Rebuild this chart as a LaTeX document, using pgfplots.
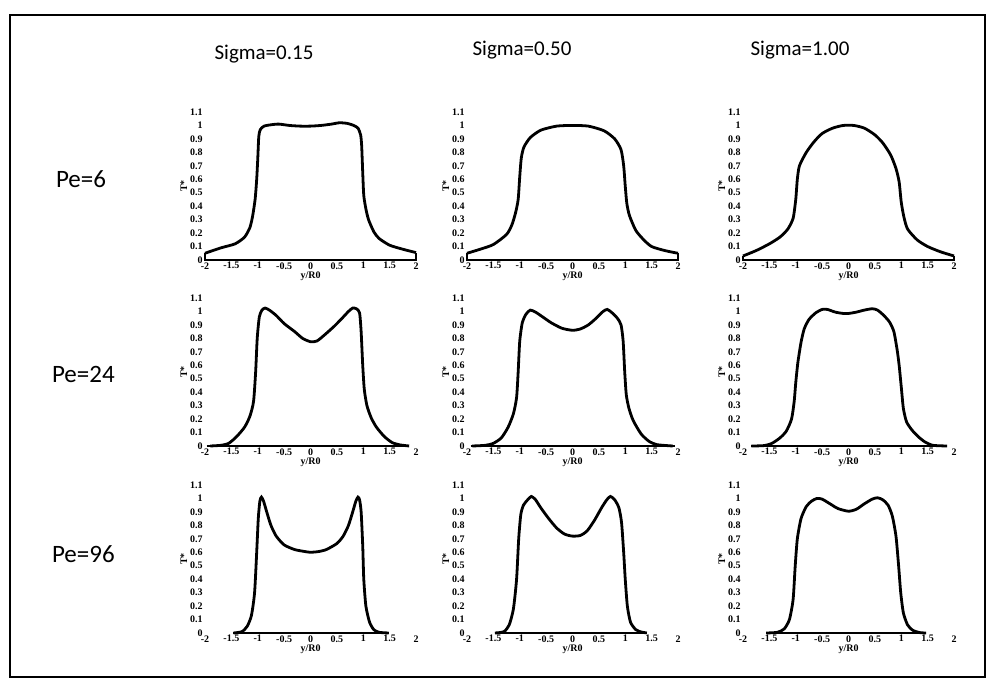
\documentclass[border=0pt]{standalone}
\usepackage{fontspec}
\setmainfont{Carlito}
\newfontfamily\tickfont{Liberation Serif}
\usepackage{pgfplots}
\pgfplotsset{compat=1.18}

\pgfplotsset{
  panel/.style={
    scale only axis,
    anchor=south west,
    width=105.5pt,
    height=74pt,
    xmin=-2, xmax=2,
    ymin=0, ymax=1.1,
    axis line style={draw=none},
    tick style={draw=none},
    xtick={-2,-1.5,-1,-0.5,0,0.5,1,1.5,2},
    xticklabels={-2,-1.5,-1,-0.5,0,0.5,1,1.5,2},
    ytick={0,0.1,0.2,0.3,0.4,0.5,0.6,0.7,0.8,0.9,1,1.1},
    yticklabels={0,0.1,0.2,0.3,0.4,0.5,0.6,0.7,0.8,0.9,1,1.1},
    tick label style={font=\tickfont\bfseries\fontsize{5}{6}\selectfont, inner sep=1pt},
    xlabel={y/R0},
    ylabel={T*},
    label style={font=\tickfont\bfseries\fontsize{5}{6}\selectfont},
    xlabel style={yshift=3pt},
    ylabel style={yshift=-3pt},
    clip=false,
  },
  curve/.style={black, line width=1.4pt, smooth, tension=0.4, no marks},
  base/.style={black, line width=1.2pt, no marks},
}

\begin{document}
\begin{tikzpicture}
\useasboundingbox (0,0) rectangle (496pt,340pt);
\draw[line width=1pt] (5pt,1.5pt) rectangle (492.5pt,332.5pt);

% column titles
\node[font=\fontsize{10.5}{12}\selectfont, anchor=base] at (132pt,310pt) {Sigma=0.15};
\node[font=\fontsize{10.5}{12}\selectfont, anchor=base] at (261pt,312pt) {Sigma=0.50};
\node[font=\fontsize{10.5}{12}\selectfont, anchor=base] at (400pt,312pt) {Sigma=1.00};

% row labels
\node[font=\fontsize{12.5}{14}\selectfont, anchor=base west] at (24.5pt,246pt) {Pe=6};
\node[font=\fontsize{12.5}{14}\selectfont, anchor=base west] at (22.5pt,148.5pt) {Pe=24};
\node[font=\fontsize{12.5}{14}\selectfont, anchor=base west] at (22.5pt,58.5pt) {Pe=96};

% ---- row 1: Pe=6
\begin{axis}[panel, at={(102.5pt,210pt)}]
\addplot[base] coordinates {(-2,0.05) (-2,0) (2,0) (2,0.055)};
\addplot[curve] coordinates {
(-2,0.05)(-1.7,0.09)(-1.43,0.12)(-1.25,0.17)(-1.15,0.24)(-1.1,0.32)(-1.05,0.45)
(-1.02,0.6)(-1.0,0.75)(-0.98,0.92)(-0.95,0.97)(-0.88,0.995)(-0.75,1.005)(-0.6,1.01)
(-0.4,1.0)(-0.2,0.995)(0,0.995)(0.2,1.0)(0.4,1.01)(0.55,1.02)(0.7,1.015)(0.82,1.0)
(0.9,0.98)(0.95,0.93)(0.97,0.85)(0.99,0.65)(1.01,0.48)(1.05,0.38)(1.1,0.3)(1.2,0.21)
(1.3,0.16)(1.5,0.11)(1.75,0.08)(2,0.055)};
\end{axis}

\begin{axis}[panel, at={(233.5pt,210pt)}]
\addplot[base] coordinates {(-2,0.05) (-2,0) (2,0) (2,0.05)};
\addplot[curve] coordinates {
(-2,0.05)(-1.75,0.08)(-1.5,0.115)(-1.25,0.19)(-1.15,0.26)(-1.08,0.35)(-1.03,0.45)
(-1.0,0.62)(-0.97,0.76)(-0.92,0.84)(-0.8,0.91)(-0.6,0.965)(-0.3,0.995)(0,1.0)
(0.3,0.995)(0.6,0.96)(0.8,0.9)(0.92,0.82)(0.97,0.7)(1.0,0.55)(1.03,0.42)(1.08,0.33)
(1.2,0.22)(1.35,0.15)(1.5,0.1)(1.75,0.07)(2,0.05)};
\end{axis}

\begin{axis}[panel, at={(371.5pt,210pt)}]
\addplot[base] coordinates {(-2,0.03) (-2,0) (2,0) (2,0.03)};
\addplot[curve] coordinates {
(-2,0.03)(-1.75,0.07)(-1.5,0.12)(-1.3,0.17)(-1.15,0.23)(-1.05,0.31)(-1.0,0.45)
(-0.97,0.6)(-0.93,0.7)(-0.8,0.8)(-0.65,0.88)(-0.5,0.94)(-0.3,0.98)(-0.1,1.0)
(0.1,1.0)(0.3,0.98)(0.5,0.93)(0.65,0.87)(0.8,0.78)(0.9,0.68)(0.96,0.58)(1.0,0.43)
(1.05,0.32)(1.12,0.23)(1.3,0.15)(1.5,0.1)(1.75,0.06)(2,0.03)};
\end{axis}

% ---- row 2: Pe=24
\begin{axis}[panel, at={(102.5pt,117pt)}]
\addplot[base] coordinates {(-1.97,0) (1.87,0)};
\addplot[curve] coordinates {
(-1.9,0)(-1.7,0.005)(-1.55,0.02)(-1.4,0.07)(-1.25,0.14)(-1.15,0.22)(-1.08,0.33)
(-1.04,0.55)(-1.01,0.8)(-0.97,0.96)(-0.92,1.01)(-0.86,1.025)(-0.78,1.01)(-0.65,0.97)
(-0.5,0.91)(-0.3,0.85)(-0.15,0.8)(0,0.775)(0.12,0.78)(0.25,0.82)(0.45,0.89)(0.6,0.95)
(0.72,1.0)(0.8,1.025)(0.87,1.02)(0.93,0.99)(0.96,0.85)(0.99,0.6)(1.02,0.42)(1.07,0.3)
(1.15,0.21)(1.25,0.14)(1.4,0.07)(1.55,0.025)(1.7,0.008)(1.87,0)};
\end{axis}

\begin{axis}[panel, at={(233.5pt,117pt)}]
\addplot[base] coordinates {(-1.93,0) (1.95,0)};
\addplot[curve] coordinates {
(-1.9,0)(-1.65,0.005)(-1.5,0.02)(-1.35,0.06)(-1.22,0.14)(-1.12,0.24)(-1.06,0.36)
(-1.03,0.55)(-1.0,0.78)(-0.95,0.92)(-0.88,0.98)(-0.8,1.01)(-0.7,0.995)(-0.55,0.955)
(-0.4,0.915)(-0.2,0.875)(0,0.86)(0.15,0.87)(0.3,0.9)(0.45,0.95)(0.58,1.0)(0.66,1.015)
(0.75,0.99)(0.85,0.95)(0.92,0.9)(0.96,0.78)(0.99,0.55)(1.02,0.38)(1.07,0.28)(1.15,0.19)
(1.3,0.09)(1.45,0.035)(1.6,0.01)(1.9,0)};
\end{axis}

\begin{axis}[panel, at={(371.5pt,117pt)}]
\addplot[base] coordinates {(-1.84,0) (1.87,0)};
\addplot[curve] coordinates {
(-1.84,0)(-1.6,0.003)(-1.45,0.02)(-1.3,0.06)(-1.18,0.11)(-1.08,0.2)(-1.03,0.33)
(-1.0,0.47)(-0.96,0.62)(-0.9,0.77)(-0.84,0.87)(-0.75,0.94)(-0.62,0.99)(-0.5,1.015)
(-0.4,1.015)(-0.25,0.995)(-0.1,0.985)(0,0.985)(0.15,0.995)(0.3,1.01)(0.45,1.02)
(0.55,1.01)(0.67,0.97)(0.78,0.92)(0.86,0.85)(0.92,0.72)(0.96,0.6)(1.0,0.44)(1.04,0.28)
(1.1,0.18)(1.2,0.12)(1.32,0.07)(1.45,0.03)(1.6,0.005)(1.87,0)};
\end{axis}

% ---- row 3: Pe=96
\begin{axis}[panel, at={(102.5pt,23.5pt)}]
\addplot[base] coordinates {(-1.46,0) (1.48,0)};
\addplot[curve] coordinates {
(-1.46,0)(-1.3,0.01)(-1.2,0.05)(-1.12,0.13)(-1.06,0.3)(-1.02,0.6)(-0.99,0.85)
(-0.96,0.98)(-0.93,1.01)(-0.89,0.98)(-0.83,0.9)(-0.75,0.8)(-0.65,0.72)(-0.5,0.655)
(-0.3,0.62)(-0.1,0.605)(0,0.6)(0.15,0.605)(0.3,0.62)(0.5,0.665)(0.62,0.72)(0.72,0.8)
(0.8,0.9)(0.86,0.98)(0.9,1.01)(0.93,0.99)(0.96,0.9)(0.99,0.65)(1.01,0.4)(1.05,0.2)
(1.12,0.08)(1.2,0.025)(1.3,0.005)(1.48,0)};
\end{axis}

\begin{axis}[panel, at={(233.5pt,23.5pt)}]
\addplot[base] coordinates {(-1.47,0) (1.41,0)};
\addplot[curve] coordinates {
(-1.47,0)(-1.3,0.01)(-1.2,0.06)(-1.12,0.18)(-1.06,0.4)(-1.02,0.7)(-0.98,0.88)
(-0.93,0.95)(-0.85,0.99)(-0.78,1.015)(-0.7,0.99)(-0.6,0.93)(-0.45,0.85)(-0.3,0.78)
(-0.15,0.735)(0,0.72)(0.15,0.725)(0.28,0.76)(0.42,0.84)(0.55,0.93)(0.65,0.99)
(0.72,1.015)(0.8,0.99)(0.88,0.93)(0.93,0.82)(0.97,0.6)(1.0,0.4)(1.04,0.2)(1.1,0.08)
(1.2,0.025)(1.3,0.008)(1.41,0)};
\end{axis}

\begin{axis}[panel, at={(371.5pt,23.5pt)}]
\addplot[base] coordinates {(-1.56,0) (1.47,0)};
\addplot[curve] coordinates {
(-1.56,0)(-1.35,0.005)(-1.22,0.03)(-1.12,0.1)(-1.05,0.25)(-1.01,0.5)(-0.97,0.7)
(-0.9,0.85)(-0.8,0.94)(-0.7,0.98)(-0.6,1.0)(-0.5,0.995)(-0.35,0.96)(-0.2,0.925)
(0,0.905)(0.15,0.92)(0.3,0.96)(0.45,0.995)(0.55,1.005)(0.65,0.99)(0.75,0.95)(0.83,0.87)
(0.9,0.72)(0.95,0.5)(0.99,0.3)(1.04,0.15)(1.12,0.06)(1.22,0.02)(1.35,0.003)(1.47,0)};
\end{axis}
\end{tikzpicture}
\end{document}
